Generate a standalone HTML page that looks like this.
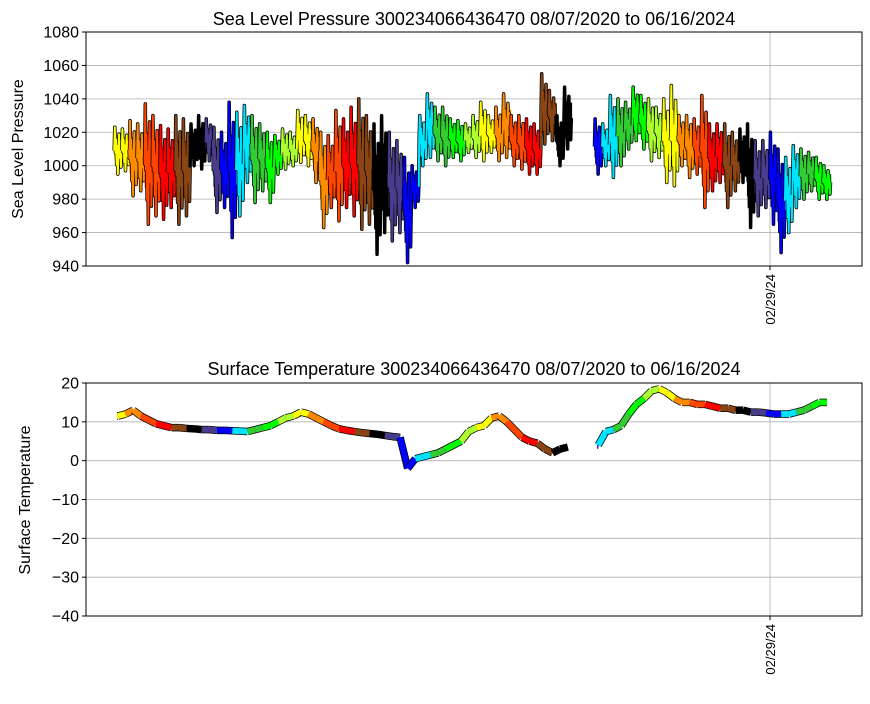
<!DOCTYPE html>
<html><head><meta charset="utf-8"><style>
body{margin:0;background:#fff}
svg text{font-family:"Liberation Sans",sans-serif;fill:#000}
</style></head><body>
<svg id="chart" width="870" height="699" xmlns="http://www.w3.org/2000/svg">
<text x="474" y="25" font-size="18" text-anchor="middle">Sea Level Pressure 300234066436470  08/07/2020 to 06/16/2024</text>
<text x="474" y="375" font-size="18" text-anchor="middle">Surface Temperature 300234066436470  08/07/2020 to 06/16/2024</text>
<text transform="translate(23,149) rotate(-90)" font-size="16" text-anchor="middle">Sea Level Pressure</text>
<text transform="translate(30,500) rotate(-90)" font-size="16" text-anchor="middle">Surface Temperature</text>
<g id="top"></g>
<g id="bot"></g>
</svg>
<script>
const pLow=[995,997,982,985,965,970,968,975,965,970,1000,998,1003,972,975,957,970,990,978,985,978,995,998,1000,1002,1000,990,963,975,967,975,970,962,965,947,960,955,960,942,975,1000,1005,1003,1000,1005,1003,1008,1005,1003,1008,1003,1005,1000,998,995,995,1013,1015,1000,1010,null,null,null,995,1000,993,1000,1010,1015,1010,1003,1005,990,988,1000,993,995,975,985,990,975,985,990,963,970,975,965,948,960,975,980,985,980,980];
const pHigh=[1023,1022,1027,1025,1037,1030,1024,1022,1030,1028,1025,1030,1028,1023,1020,1038,1032,1036,1030,1025,1020,1018,1022,1020,1033,1030,1028,1020,1018,1033,1028,1035,1040,1030,1025,1030,1020,1015,1005,1000,1030,1043,1035,1035,1028,1027,1025,1030,1038,1030,1035,1043,1030,1030,1028,1025,1055,1045,1030,1047,null,null,null,1028,1025,1042,1040,1038,1047,1042,1040,1035,1040,1048,1030,1030,1028,1042,1025,1025,1025,1020,1022,1025,1015,1015,1020,1010,1005,1012,1010,1008,1005,1000];
const temp=[11.5,12,13,11.5,10.5,9.5,9,8.5,8.5,8.3,8.2,8,8,7.8,7.8,7.7,7.6,7.5,8,8.5,9,10,11,11.5,12.5,12,11,10,9,8.2,7.8,7.5,7.2,7,6.8,6.5,6.2,6,-2,0.5,1,1.5,2,3,4,5,7.5,8.5,9,11,11.5,10,8,6,5,4.5,3,2,3,3.5,null,null,null,4,7.5,8,9,12,14.5,16,18,18.5,17.5,16,15,15,14.5,14.5,14,13.5,13.5,13,13,12.5,12.5,12.3,12,12,12,12.5,13,14,15,15];
const pTicks=[940,960,980,1000,1020,1040,1060,1080];
const tTicks=[-40,-30,-20,-10,0,10,20];
const xTickLabels=["02/29/24"];
const palette=["#ffff00","#ff8c00","#ff4500","#ff0000","#8b4513","#000000","#483d8b","#0000ff","#00e5ff","#32cd32","#00ff00","#adff2f"];
const NS="http://www.w3.org/2000/svg";
const L=86,R=862;
const xs=i=>118+i*(709/93);
const xTickPos=770;
function mk(p,tag,attrs){const e=document.createElementNS(NS,tag);for(const k in attrs)e.setAttribute(k,attrs[k]);p.appendChild(e);return e;}
function fmt(t){return t<0?'\u2212'+(-t):String(t);}
function axes(g,top,bot,ticks,ymap,nm){
  ticks.forEach(t=>{const y=ymap(t);
    const gl=mk(g,'line',{x1:L,x2:R,y1:y,y2:y,stroke:'#b0b0b0','stroke-width':0.8});
    
    mk(g,'line',{x1:L-4,x2:L,y1:y,y2:y,stroke:'#000'});
    const tx=mk(g,'text',{x:L-7,y:y+5.5,'font-size':16,'text-anchor':'end'});tx.textContent=fmt(t);
    
  });
  mk(g,'line',{x1:xTickPos,x2:xTickPos,y1:top,y2:bot,stroke:'#b0b0b0','stroke-width':0.8});
  mk(g,'line',{x1:xTickPos,x2:xTickPos,y1:bot,y2:bot+4,stroke:'#000'});
  const xl=mk(g,'text',{transform:`translate(${xTickPos+5},${bot+8}) rotate(-90)`,'font-size':13,'text-anchor':'end'});
  xl.textContent=xTickLabels[0];
  
}
function frame(g,top,bot){const r=mk(g,'rect',{x:L,y:top,width:R-L,height:bot-top,fill:'none',stroke:'#000','stroke-width':1});
  }
function drawSeg(g,pts,col,w){
  mk(g,'polyline',{points:pts.map(p=>p.join(',')).join(' '),fill:'none',stroke:'#000','stroke-width':w+1.5,'stroke-linejoin':'round'});
  return mk(g,'polyline',{points:pts.map(p=>p.join(',')).join(' '),fill:'none',stroke:col,'stroke-width':w,'stroke-linejoin':'round'});
}
// top
const gt=document.getElementById('top');
const yP=v=>266-(v-940)/140*234;
axes(gt,32,266,pTicks,yP,'pressure');
const st=709/93;
const fr=[[0,0.5],[0.08,1],[0.16,0.45],[0.24,0.75],[0.32,0.2],[0.4,0.6],[0.48,0.0],[0.56,0.55],[0.64,0.85],[0.72,0.35],[0.8,0.7],[0.88,0.15],[0.96,0.5]];
let prev=null;
for(let i=0;i<pLow.length;i++){
  if(pLow[i]==null){prev=null;continue;}
  const x=xs(i)-st/2,lo=pLow[i],hi=pHigh[i];
  const pts=[];if(prev)pts.push(prev);
  fr.forEach(f=>pts.push([x+f[0]*st,yP(lo+(hi-lo)*f[1])]));
  const col=palette[Math.floor(i/2)%12];
  mk(gt,'rect',{x:x,y:yP(lo+(hi-lo)*0.75),width:st+0.5,height:yP(lo+(hi-lo)*0.3)-yP(lo+(hi-lo)*0.75),fill:col});
  const pl=drawSeg(gt,pts,col,2);
  
  
  prev=pts[pts.length-1];
}
frame(gt,32,266);
// bottom
const gb=document.getElementById('bot');
const yT=v=>616-(v+40)/60*233;
axes(gb,383,616,tTicks,yT,'temperature');
prev=null;
for(let i=0;i<temp.length;i++){
  if(temp[i]==null){prev=null;continue;}
  const p=[xs(i),yT(temp[i])];
  const pts=prev?[prev,p]:[[p[0]-1,p[1]],p];
  const pl=drawSeg(gb,pts,palette[Math.floor(i/2)%12],6);
  
  
  prev=p;
}
frame(gb,383,616);
</script>
</body></html>
